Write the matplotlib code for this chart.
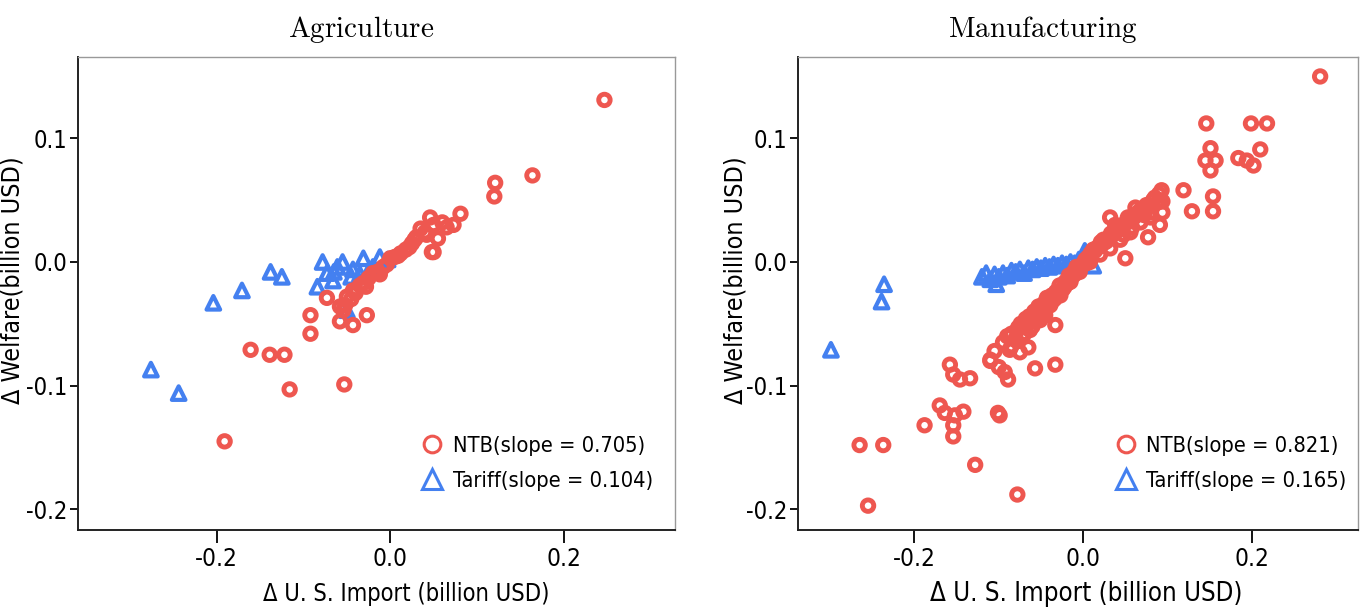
import matplotlib
matplotlib.use("Agg")
import matplotlib.pyplot as plt
from matplotlib import font_manager as fm
from matplotlib.lines import Line2D

# the reference uses a narrow Helvetica; take a condensed face if one is installed
names = {f.name for f in fm.fontManager.ttflist}
cond = [f for f in fm.fontManager.ttflist if f.stretch in ('condensed', 'semi-condensed')]
if 'Liberation Sans Narrow' in names:
    plt.rcParams['font.family'] = ['Liberation Sans Narrow', 'DejaVu Sans']
elif cond:
    plt.rcParams['font.family'] = [cond[0].name, 'DejaVu Sans']
    plt.rcParams['font.stretch'] = 'condensed'
else:
    plt.rcParams['font.family'] = ['Liberation Sans', 'DejaVu Sans']
plt.rcParams['axes.unicode_minus'] = False
plt.rcParams['mathtext.fontset'] = 'cm'

RED = '#EE5750'
BLUE = '#4480F0'

# Agriculture
agri_ntb_x = [0.247, 0.121, 0.120, 0.164, -0.191, -0.161, -0.139, -0.122, -0.116, -0.053,
              -0.092, -0.092, -0.073, -0.058, -0.043, -0.027, 0.050,
              0.046, 0.060, 0.081, 0.073, 0.055, 0.048, 0.035, 0.025, 0.012, 0.000,
              -0.008, -0.020, -0.031, -0.043, -0.050, -0.058, -0.054,
              0.005, 0.018, 0.028, 0.040, -0.004, -0.015, -0.025, -0.035, -0.045,
              0.065, 0.050, 0.042, 0.022, 0.009, -0.012, -0.028, -0.040, -0.052, 0.030]
agri_ntb_y = [0.131, 0.064, 0.053, 0.070, -0.145, -0.071, -0.075, -0.075, -0.103, -0.099,
              -0.043, -0.058, -0.029, -0.048, -0.051, -0.043, 0.008,
              0.036, 0.032, 0.039, 0.030, 0.019, 0.008, 0.027, 0.015, 0.007, 0.003,
              -0.004, -0.009, -0.017, -0.023, -0.028, -0.036, -0.039,
              0.004, 0.010, 0.018, 0.024, -0.002, -0.008, -0.013, -0.019, -0.030,
              0.028, 0.030, 0.022, 0.012, 0.005, -0.010, -0.020, -0.025, -0.035, 0.020]
agri_tar_x = [-0.204, -0.171, -0.138, -0.125, -0.276, -0.244,
              -0.078, -0.055, -0.031, -0.012, -0.084, -0.066, -0.050, -0.043, -0.020,
              -0.003, -0.073, -0.061, -0.035, -0.025, -0.045, -0.065]
agri_tar_y = [-0.033, -0.023, -0.008, -0.012, -0.087, -0.106,
              0.000, 0.000, 0.003, 0.004, -0.020, -0.015, -0.039, -0.006, -0.004,
              0.002, -0.009, -0.004, -0.010, -0.008, -0.012, -0.008]

# Manufacturing
manu_ntb_x = [0.281, 0.146, 0.199, 0.218, 0.210, 0.151, 0.145, 0.157, 0.151, 0.184, 0.194, 0.202,
              0.154, 0.154, 0.129, 0.119, 0.094, 0.093, 0.094, 0.091, 0.077, 0.032, 0.050, 0.080, 0.068,
              -0.265, -0.237, -0.255, -0.078, -0.128, -0.154, -0.170, -0.164, -0.152, -0.154, -0.142,
              -0.188, -0.158, -0.154, -0.146, -0.134, -0.101, -0.099, -0.110, -0.093, -0.089, -0.057,
              -0.033, -0.087, -0.075, -0.065, -0.077, -0.063, -0.051, -0.045, -0.033,
              -0.039, -0.027, -0.015, -0.004, 0.008, 0.020, 0.032, 0.044, 0.056, 0.068, 0.080, 0.091,
              -0.060, -0.055, -0.050, -0.046, -0.042, -0.038, -0.034, -0.030, -0.026, -0.022,
              -0.018, -0.014, -0.010, -0.006, -0.002, 0.002, 0.006, 0.010, 0.014, 0.018, 0.022,
              0.026, 0.030, 0.035, 0.040, 0.045, 0.050, 0.055, 0.060, 0.065, 0.070, 0.075, 0.085,
              -0.070, -0.066, -0.062, -0.048, -0.044, -0.036, -0.024, -0.016, -0.008, 0.004, 0.012,
              0.024, 0.038, 0.048, 0.058, 0.072, 0.088, -0.080, -0.072, -0.085, 0.062, 0.090,
              -0.095, -0.090, -0.085, -0.078, -0.074, -0.068, -0.064, -0.058, -0.053, -0.047,
              -0.043, -0.037, -0.032, -0.028, -0.021, -0.017, -0.011, -0.007, 0.003, 0.009,
              0.016, 0.021, 0.028, 0.033, 0.042, 0.047, 0.053, 0.063, 0.068, 0.078, 0.083,
              -0.105, -0.110, -0.100]
manu_ntb_y = [0.150, 0.112, 0.112, 0.112, 0.091, 0.092, 0.082, 0.082, 0.074, 0.084, 0.082, 0.078,
              0.053, 0.041, 0.041, 0.058, 0.049, 0.058, 0.040, 0.030, 0.020, 0.036, 0.003, 0.036, 0.040,
              -0.148, -0.148, -0.197, -0.188, -0.164, -0.132, -0.116, -0.122, -0.124, -0.141, -0.121,
              -0.132, -0.083, -0.091, -0.095, -0.094, -0.122, -0.124, -0.079, -0.089, -0.095, -0.086,
              -0.083, -0.071, -0.073, -0.069, -0.053, -0.055, -0.047, -0.043, -0.051,
              -0.035, -0.027, -0.016, -0.008, 0.000, 0.006, 0.011, 0.018, 0.024, 0.032, 0.040, 0.050,
              -0.052, -0.046, -0.042, -0.039, -0.036, -0.033, -0.030, -0.026, -0.023, -0.020,
              -0.017, -0.013, -0.010, -0.006, -0.003, 0.001, 0.004, 0.006, 0.009, 0.012, 0.014,
              0.016, 0.019, 0.022, 0.025, 0.028, 0.031, 0.033, 0.036, 0.040, 0.043, 0.046, 0.052,
              -0.058, -0.050, -0.048, -0.044, -0.032, -0.028, -0.022, -0.012, -0.004, -0.001, 0.010,
              0.018, 0.030, 0.022, 0.028, 0.038, 0.048, -0.062, -0.060, -0.068, 0.044, 0.055,
              -0.065, -0.060, -0.058, -0.055, -0.050, -0.046, -0.044, -0.040, -0.036, -0.034,
              -0.029, -0.027, -0.024, -0.019, -0.016, -0.011, -0.008, -0.005, 0.002, 0.007,
              0.011, 0.016, 0.017, 0.023, 0.026, 0.030, 0.036, 0.038, 0.042, 0.045, 0.050,
              -0.072, -0.080, -0.085]
manu_tar_x = [-0.299, -0.236, -0.239,
              -0.120, -0.115, -0.110, -0.105, -0.103, -0.100, -0.095, -0.090, -0.085, -0.080,
              -0.075, -0.070, -0.065, -0.060, -0.055, -0.050, -0.045, -0.040, -0.035, -0.030,
              -0.025, -0.020, -0.015, -0.010, -0.005, 0.000, 0.002, 0.012]
manu_tar_y = [-0.071, -0.018, -0.032,
              -0.012, -0.009, -0.014, -0.010, -0.018, -0.012, -0.009, -0.011, -0.007, -0.008,
              -0.006, -0.009, -0.005, -0.006, -0.004, -0.005, -0.003, -0.004, -0.002, -0.003,
              -0.001, -0.002, 0.000, -0.001, 0.002, 0.003, 0.009, -0.003]

panels = [
    dict(title='Agriculture', nx=agri_ntb_x, ny=agri_ntb_y, tx=agri_tar_x, ty=agri_tar_y,
         s_ntb='0.705', s_tar='0.104', rect=[0.0574, 0.1311, 0.439, 0.7754],
         xlim=(-0.36, 0.3285), title_x=0.2654, ylab_x=0.0095, xlab_x=0.299, xlab_fs=17,
         leg_x=0.978),
    dict(title='Manufacturing', nx=manu_ntb_x, ny=manu_ntb_y, tx=manu_tar_x, ty=manu_tar_y,
         s_ntb='0.821', s_tar='0.165', rect=[0.5868, 0.1311, 0.4118, 0.7754],
         xlim=(-0.338, 0.326), title_x=0.767, ylab_x=0.5405, xlab_x=0.799, xlab_fs=18.5,
         leg_x=0.995),
]

fig = plt.figure(figsize=(13.6, 6.1), dpi=100)

for p in panels:
    ax = fig.add_axes(p['rect'])
    ax.scatter(p['tx'], p['ty'], marker='^', s=95, facecolors='none', edgecolors=BLUE, linewidths=3.0)
    ax.scatter(p['nx'], p['ny'], marker='o', s=68, facecolors='none', edgecolors=RED, linewidths=3.5)
    ax.set_xlim(*p['xlim'])
    ax.set_ylim(-0.2167, 0.1657)
    ax.set_xticks([-0.2, 0.0, 0.2])
    ax.set_xticklabels(['-0.2', '0.0', '0.2'])
    ax.set_yticks([-0.2, -0.1, 0.0, 0.1])
    ax.set_yticklabels(['-0.2', '-0.1', '0.0', '0.1'])
    ax.tick_params(axis='x', length=9, width=1.3, labelsize=17.5, pad=3)
    ax.tick_params(axis='y', length=6, width=1.3, labelsize=17, pad=2)
    for side in ['left', 'bottom']:
        ax.spines[side].set_linewidth(1.4)
        ax.spines[side].set_color('#222222')
    for side in ['top', 'right']:
        ax.spines[side].set_linewidth(1.0)
        ax.spines[side].set_color('#999999')
    fig.text(p['xlab_x'], 0.026, 'Δ U. S. Import (billion USD)', fontsize=p['xlab_fs'],
             ha='center', va='center')
    fig.text(p['ylab_x'], 0.541, 'Δ Welfare(billion USD)', rotation=90, fontsize=18,
             ha='center', va='center')
    fig.text(p['title_x'], 0.951, r'$\mathrm{' + p['title'] + '}$', fontsize=21,
             ha='center', va='center')
    handles = [
        Line2D([], [], marker='o', ls='none', mfc='none', mec=RED, mew=2.2, ms=12),
        Line2D([], [], marker='^', ls='none', mfc='none', mec=BLUE, mew=2.2, ms=14),
    ]
    ax.legend(handles, ['NTB(slope = ' + p['s_ntb'] + ')', 'Tariff(slope = ' + p['s_tar'] + ')'],
              loc='lower right', bbox_to_anchor=(p['leg_x'], 0.065), frameon=False,
              fontsize=15.7, handletextpad=0.3, borderaxespad=0, labelspacing=0.68,
              handlelength=1.3)

fig.savefig('out.png', dpi=100)
